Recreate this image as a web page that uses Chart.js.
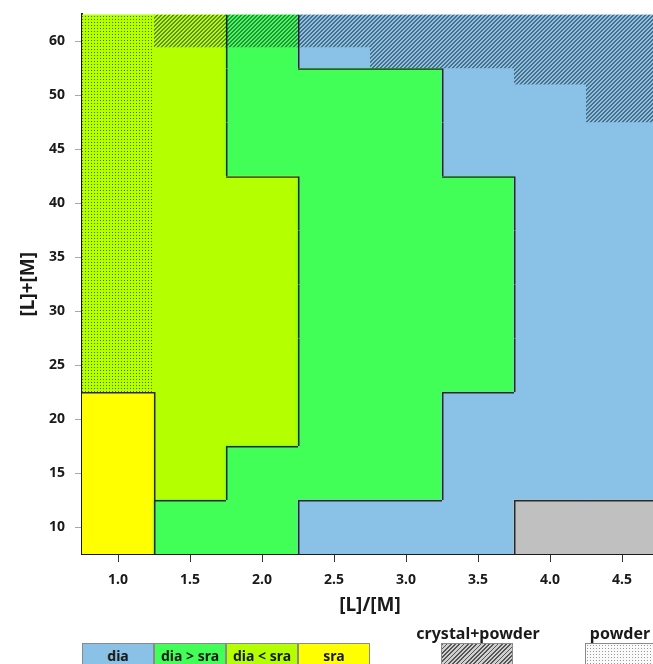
<!DOCTYPE html>
<html>
<head>
<meta charset="utf-8">
<script src="https://cdn.jsdelivr.net/npm/chart.js@4.4.1/dist/chart.umd.min.js"></script>
<style>
  body { margin: 0; background: #fff; overflow: hidden; }
  #wrap { position: relative; width: 653px; height: 664px; overflow: hidden; font-family: 'Noto Sans', sans-serif; color: #1a1a1a; }
  #chart { position: absolute; left: 0; top: 0; }
  .key { position: absolute; top: 643px; width: 72px; height: 26px; box-sizing: border-box;
         border: 1px solid #8a8a8a; font-size: 14px; font-weight: bold; text-align: center; line-height: 24px; }
  .key-title { position: absolute; top: 622px; font-size: 16px; font-weight: bold; text-align: center; width: 160px; }
</style>
</head>
<body>
<div id="wrap">
  <canvas id="chart" width="660" height="640"></canvas>
  <div id="legend"></div>
</div>
<script>
// Axis categories
const xLabels = ['1.0', '1.5', '2.0', '2.5', '3.0', '3.5', '4.0', '4.5'];
const yLabels = ['10', '15', '20', '25', '30', '35', '40', '45', '50', '60'];

// Phase found in each cell, one array per [L]+[M] row (bottom to top), one entry per [L]/[M]
const row10 = ['sra', 'dia > sra', 'dia > sra', 'dia', 'dia', 'dia', 'none', 'none'];
const row15 = ['sra', 'dia < sra', 'dia > sra', 'dia > sra', 'dia > sra', 'dia', 'dia', 'dia'];
const row20 = ['sra', 'dia < sra', 'dia < sra', 'dia > sra', 'dia > sra', 'dia', 'dia', 'dia'];
const row25 = ['dia < sra', 'dia < sra', 'dia < sra', 'dia > sra', 'dia > sra', 'dia > sra', 'dia', 'dia'];
const row30 = ['dia < sra', 'dia < sra', 'dia < sra', 'dia > sra', 'dia > sra', 'dia > sra', 'dia', 'dia'];
const row35 = ['dia < sra', 'dia < sra', 'dia < sra', 'dia > sra', 'dia > sra', 'dia > sra', 'dia', 'dia'];
const row40 = ['dia < sra', 'dia < sra', 'dia < sra', 'dia > sra', 'dia > sra', 'dia > sra', 'dia', 'dia'];
const row45 = ['dia < sra', 'dia < sra', 'dia > sra', 'dia > sra', 'dia > sra', 'dia', 'dia', 'dia'];
const row50 = ['dia < sra', 'dia < sra', 'dia > sra', 'dia > sra', 'dia > sra', 'dia', 'dia', 'dia'];
const row60 = ['dia < sra', 'dia < sra', 'dia > sra', 'dia', 'dia', 'dia', 'dia', 'dia'];
const phaseRows = [row10, row15, row20, row25, row30, row35, row40, row45, row50, row60];

// Lower edge of the crystal+powder and powder areas, in row units (row i spans i-0.5..i+0.5)
const crystalPowderFrom = [null, 8.89, 8.89, 8.89, 8.5, 8.5, 8.2, 7.5];
const powderFrom = [2.5, null, null, null, null, null, null, null];

const phaseColors = {
  'dia': '#89c2e6',
  'dia > sra': '#42ff58',
  'dia < sra': '#b4ff00',
  'sra': '#ffff00',
  'none': '#c0c0c0'
};

const FONT = 'Noto Sans';
const yTop = yLabels.length - 0.5;

// Small repeating patterns for the overlays
function makePattern(size, pixels, color) {
  const c = document.createElement('canvas');
  c.width = size;
  c.height = size;
  const g = c.getContext('2d');
  g.fillStyle = color;
  pixels.forEach(([x, y]) => g.fillRect(x, y, 1, 1));
  return g.createPattern(c, 'repeat');
}
// 2px wide "////" stripes
const hatch = makePattern(4, [[3, 0], [0, 0], [2, 1], [3, 1], [1, 2], [2, 2], [0, 3], [1, 3]], 'rgba(15,25,35,0.5)');
const dots = makePattern(3, [[1, 1]], 'rgba(40,70,0,0.75)');

// Filled cells, one dataset per row
const cellSets = phaseRows.map((row, r) => ({
  data: row.map(() => [r - 0.5, r + 0.5]),
  backgroundColor: row.map(p => phaseColors[p]),
  borderWidth: 0,
  inflateAmount: 0.6,
  grouped: false,
  order: 3
}));

// Same cells again, unfilled, with a line only where the neighbour has another phase
const edgeSets = phaseRows.map((row, r) => ({
  data: row.map(() => [r - 0.5, r + 0.5]),
  backgroundColor: 'rgba(0,0,0,0)',
  borderColor: '#2a2a2a',
  borderWidth: (ctx) => {
    const c = ctx.dataIndex;
    const up = phaseRows[r + 1];
    return {
      top: up && up[c] !== row[c] ? 1.5 : 0,
      left: c > 0 && row[c - 1] !== row[c] ? 1.5 : 0,
      bottom: 0,
      right: 0
    };
  },
  borderSkipped: false,
  inflateAmount: 0,
  grouped: false,
  order: 2
}));

const overlaySets = [
  { data: crystalPowderFrom.map(v => v === null ? null : [v, yTop]), backgroundColor: hatch },
  { data: powderFrom.map(v => v === null ? null : [v, yTop]), backgroundColor: dots }
].map(d => Object.assign(d, { borderWidth: 0, inflateAmount: 0, grouped: false, order: 1 }));

const tickFont = { family: FONT, size: 14, weight: 'bold' };
const titleFont = { family: FONT, size: 19, weight: 'bold' };

new Chart(document.getElementById('chart'), {
  type: 'bar',
  data: { labels: xLabels, datasets: overlaySets.concat(edgeSets, cellSets) },
  options: {
    responsive: false,
    animation: false,
    layout: { padding: { top: 14, right: 2, left: 0, bottom: 0 } },
    plugins: { legend: { display: false }, tooltip: { enabled: false } },
    datasets: { bar: { barPercentage: 1, categoryPercentage: 1 } },
    scales: {
      x: {
        type: 'category',
        offset: true,
        grid: { offset: false, drawOnChartArea: false, tickLength: 8, color: '#333' },
        border: { color: '#1a1a1a', width: 2 },
        ticks: { font: tickFont, color: '#1a1a1a', padding: 10 },
        title: { display: true, text: '[L]/[M]', font: titleFont, color: '#1a1a1a', padding: { top: 0, bottom: 23 } },
        afterFit: (s) => { s.height = 86; }
      },
      y: {
        type: 'linear',
        min: -0.5,
        max: yTop,
        afterBuildTicks: (s) => { s.ticks = yLabels.map((_, i) => ({ value: i })); },
        ticks: { callback: (v) => yLabels[v], font: tickFont, color: '#1a1a1a', padding: 6 },
        grid: { drawOnChartArea: false, tickLength: 11, color: '#a8a8a8', tickBorderDash: [0, 4, 7, 30] },
        border: { color: '#1a1a1a', width: 2 },
        title: { display: true, text: '[L]+[M]', font: titleFont, color: '#1a1a1a', padding: { top: 17, bottom: 0 } },
        afterFit: (s) => { s.width = 82; }
      }
    }
  }
});

// Legend below the plot
const legend = document.getElementById('legend');
const phaseKeys = ['dia', 'dia > sra', 'dia < sra', 'sra'];
legend.innerHTML = phaseKeys.map((p, i) =>
  `<div class="key" style="left:${82 + i * 72}px;background:${phaseColors[p]}">${p}</div>`
).join('') + `
  <div class="key-title" style="left:398px">crystal+powder</div>
  <div class="key" style="left:441px;background:repeating-linear-gradient(135deg,#555 0 1.2px,#cfcfcf 1.2px 3px)"></div>
  <div class="key-title" style="left:540px">powder</div>
  <div class="key" style="left:585px;background:#fafafa radial-gradient(#999 0.6px, transparent 0.9px) 0 0/3px 3px"></div>
`;
</script>
</body>
</html>
